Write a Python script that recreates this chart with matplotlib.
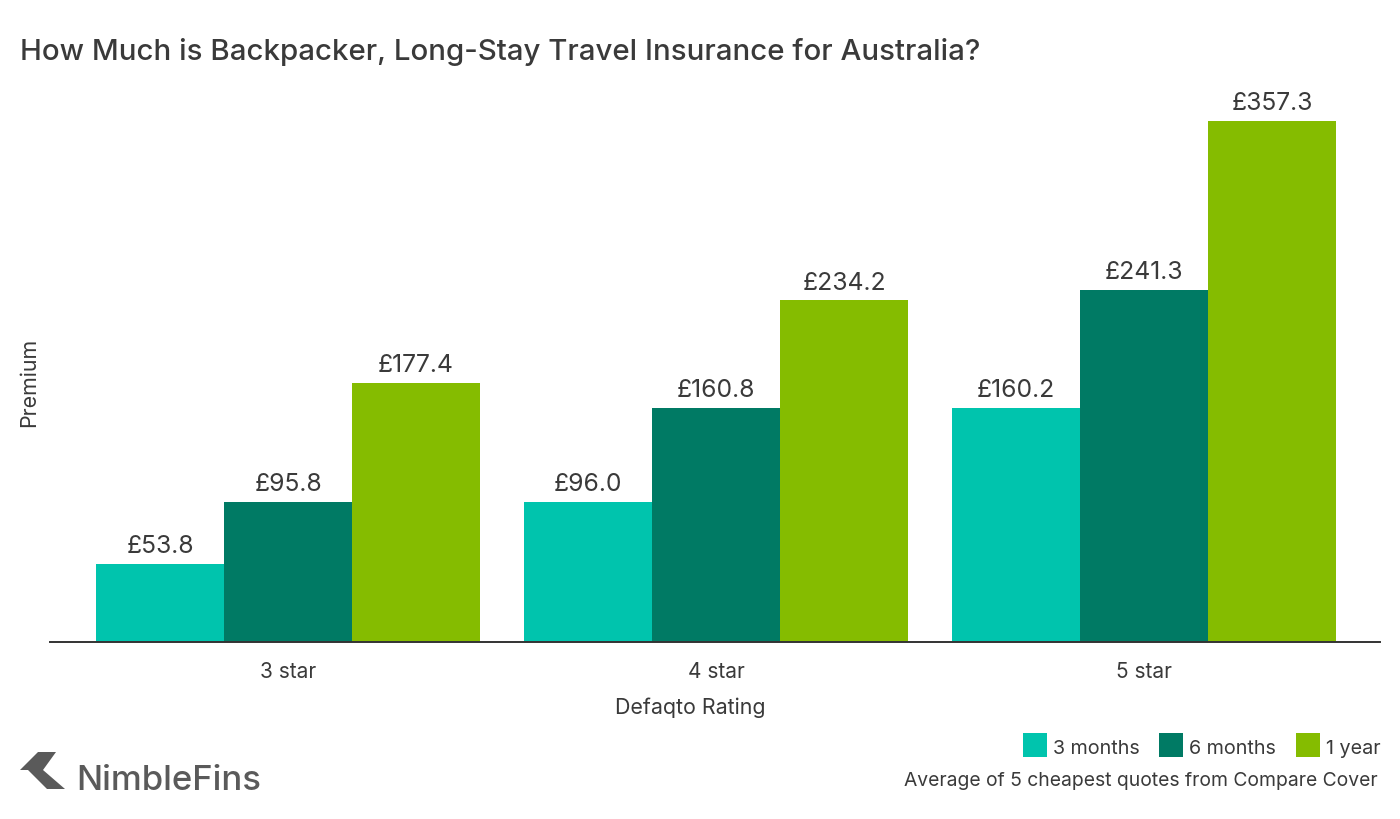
import numpy as np
from matplotlib import pyplot as plt
from matplotlib.patches import Polygon, Rectangle

plt.rcParams['font.family'] = ['Inter', 'DejaVu Sans']

# -- DATA
categories = ['3 star', '4 star', '5 star']
series_names = ['3 months', '6 months', '1 year']
months_3 = [53.8, 96.0, 160.2]
months_6 = [95.8, 160.8, 241.3]
year_1 = [177.4, 234.2, 357.3]
colors = ['#00c4ad', '#007a64', '#85bc00']
ink = '#3a3a3a'

W, H = 1400, 820
fig = plt.figure(figsize=(W/100, H/100), dpi=100)

# axes box in pixels: x 50-1380, baseline at y=643
ax = fig.add_axes([50/W, 1-643/H, 1330/W, 560/H])

x = np.arange(len(categories))
bar_w = 128/428
for i, vals in enumerate([months_3, months_6, year_1]):
    pos = x + (i-1)*bar_w
    ax.bar(pos, vals, bar_w, color=colors[i], linewidth=0)
    for p, v in zip(pos, vals):
        ax.annotate('£%.1f' % v, (p, v), xytext=(0, 5), textcoords='offset points',
                    ha='center', va='bottom', fontsize=17.8, color=ink)

# 428px between groups, first group centre at 288
ax.set_xlim(-(288-50)/428, (1380-288)/428)
ax.set_ylim(0, 357.3*560/521)
ax.set_yticks([])
ax.set_xticks(x)
ax.set_xticklabels(categories, fontsize=15, color=ink)
ax.tick_params(axis='x', length=0, pad=14)
for s in ['top', 'left', 'right']:
    ax.spines[s].set_visible(False)
ax.spines['bottom'].set_color('#333333')
ax.spines['bottom'].set_linewidth(1.4)

# -- TEXTS
fig.text(20/W, 1-52/H, 'How Much is Backpacker, Long-Stay Travel Insurance for Australia?',
         fontsize=21.2, color=ink, va='center', ha='left', fontweight='medium')
fig.text(29/W, 1-382/H, 'Premium', fontsize=15.4, color=ink, rotation=90, va='center', ha='center')
fig.text(690/W, 1-708/H, 'Defaqto Rating', fontsize=15.4, color=ink, va='center', ha='center')
fig.text(1378/W, 1-781/H, 'Average of 5 cheapest quotes from Compare Cover', fontsize=13.9,
         color=ink, va='center', ha='right')

# -- LEGEND
box_x = [1023, 1159, 1296]
for bx, c, name in zip(box_x, colors, series_names):
    fig.patches.append(Rectangle((bx/W, 1-758/H), 24/W, 24/H, transform=fig.transFigure,
                                 color=c, linewidth=0))
    fig.text((bx+30)/W, 1-749/H, name, fontsize=14.2, color=ink, va='center', ha='left')

# -- LOGO
logo_dark = '#5a5a5a'
logo_top = [(20, 771), (38, 753), (56, 753), (43, 771)]
logo_bottom = [(28, 771), (43, 771), (65, 790), (47, 790)]
for pts in [logo_top, logo_bottom]:
    fig.patches.append(Polygon([(px/W, 1-py/H) for px, py in pts], closed=True,
                               transform=fig.transFigure, color=logo_dark, linewidth=0))
fig.text(76/W, 1-781/H, 'NimbleFins', fontsize=25, color=logo_dark, va='center', ha='left',
         fontweight='medium')

fig.savefig('out.png', dpi=100)
